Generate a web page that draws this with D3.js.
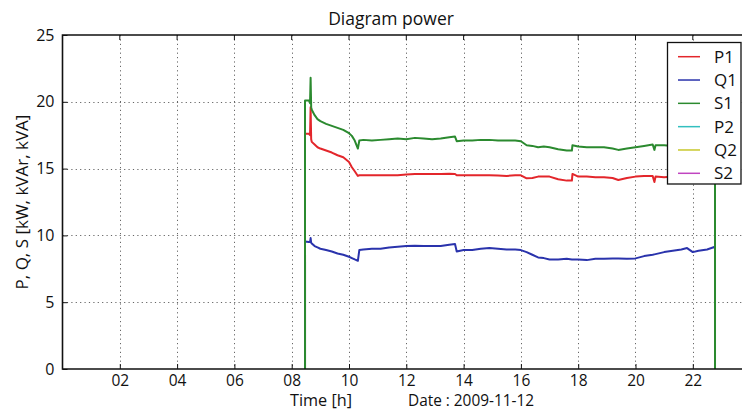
<!DOCTYPE html>
<html>
<head>
<meta charset="utf-8">
<script src="https://cdn.jsdelivr.net/npm/d3@7"></script>
<style>
  html, body { margin: 0; padding: 0; background: #fff; }
  svg { display: block; overflow: hidden; }
  text { font-family: "Open Sans", "DejaVu Sans", sans-serif; fill: #111; }
</style>
</head>
<body>
<svg id="chart" width="742" height="410"></svg>
<script>
// ---- data ----
const hours = [8.465, 8.465, 8.6, 8.64, 8.66, 8.68, 8.7, 8.8, 8.9, 9.0, 9.2, 9.4, 9.6, 9.8, 10.0, 10.1, 10.2, 10.31, 10.36, 10.5, 10.8, 11.1, 11.4, 11.7, 12.0, 12.3, 12.6, 12.9, 13.2, 13.5, 13.7, 13.76, 14.0, 14.3, 14.6, 14.9, 15.2, 15.5, 15.8, 16.0, 16.2, 16.4, 16.6, 16.8, 17.0, 17.3, 17.6, 17.78, 17.8, 18.0, 18.3, 18.6, 18.9, 19.2, 19.4, 19.7, 20.0, 20.3, 20.6, 20.66, 20.7, 21.0, 21.3, 21.6, 21.8, 22.0, 22.2, 22.5, 22.775, 22.775];
const P1 = [0, 17.6, 17.6, 17.5, 19.6, 17.2, 17.0, 16.8, 16.6, 16.5, 16.35, 16.2, 16.0, 15.85, 15.5, 15.1, 14.8, 14.45, 14.5, 14.5, 14.5, 14.5, 14.5, 14.5, 14.55, 14.6, 14.6, 14.6, 14.6, 14.62, 14.6, 14.5, 14.5, 14.5, 14.5, 14.5, 14.48, 14.45, 14.5, 14.5, 14.27, 14.3, 14.4, 14.4, 14.4, 14.2, 14.1, 14.1, 14.6, 14.4, 14.4, 14.35, 14.35, 14.3, 14.15, 14.3, 14.4, 14.45, 14.45, 14.0, 14.4, 14.35, 14.4, 14.45, 14.5, 14.4, 14.45, 14.5, 14.5, 0];
const Q1 = [0, 9.55, 9.5, 9.5, 9.8, 9.45, 9.4, 9.2, 9.1, 9.0, 8.9, 8.8, 8.65, 8.55, 8.4, 8.3, 8.2, 8.1, 8.9, 8.95, 9.0, 9.0, 9.1, 9.15, 9.2, 9.22, 9.2, 9.2, 9.2, 9.3, 9.35, 8.8, 8.9, 8.9, 9.0, 9.05, 9.0, 8.95, 8.95, 8.9, 8.75, 8.55, 8.35, 8.3, 8.2, 8.2, 8.25, 8.2, 8.2, 8.2, 8.15, 8.25, 8.25, 8.28, 8.28, 8.25, 8.28, 8.45, 8.55, 8.58, 8.6, 8.75, 8.85, 8.95, 9.05, 8.75, 8.85, 8.95, 9.15, 0];
const S1 = [0, 20.1, 20.1, 19.9, 21.8, 19.6, 19.4, 19.0, 18.7, 18.55, 18.35, 18.2, 18.05, 17.9, 17.65, 17.45, 17.1, 16.5, 17.1, 17.15, 17.1, 17.15, 17.2, 17.25, 17.2, 17.3, 17.25, 17.2, 17.25, 17.35, 17.4, 17.05, 17.1, 17.1, 17.15, 17.15, 17.1, 17.1, 17.1, 17.05, 16.75, 16.7, 16.6, 16.65, 16.6, 16.45, 16.35, 16.35, 16.75, 16.65, 16.6, 16.6, 16.6, 16.5, 16.4, 16.5, 16.6, 16.7, 16.8, 16.4, 16.75, 16.75, 16.7, 16.8, 16.9, 16.6, 16.7, 16.8, 16.9, 0];
const seriesNames = ["P1", "Q1", "S1", "P2", "Q2", "S2"];
const seriesColors = ["#e3262b", "#2a33ac", "#2b8a2f", "#33bfbf", "#c8c82c", "#c045c0"];
const xTicks = [2, 4, 6, 8, 10, 12, 14, 16, 18, 20, 22];
const xTickLabels = ["02", "04", "06", "08", "10", "12", "14", "16", "18", "20", "22"];
const yTicks = [0, 5, 10, 15, 20, 25];
const titleText = "Diagram power";
const yLabel = "P, Q, S [kW, kVAr, kVA]";
const xLabel = "Time [h]";
const dateLabel = "Date : 2009-11-12";

// ---- layout ----
const svg = d3.select("#chart");
const mLeft = 62.5, mTop = 35, mBottom = 369;
const pxPerHour = 28.65;
const mRight = mLeft + 24 * pxPerHour;

const x = d3.scaleLinear().domain([0, 24]).range([mLeft, mRight]);
const y = d3.scaleLinear().domain([0, 25]).range([mBottom, mTop]);

svg.append("rect").attr("width", 742).attr("height", 410).attr("fill", "#fff");

svg.append("defs").append("clipPath").attr("id", "clip")
  .append("rect").attr("x", mLeft).attr("y", mTop).attr("width", mRight - mLeft).attr("height", mBottom - mTop);

// grid
const grid = svg.append("g").attr("stroke", "#555").attr("stroke-width", 0.9).attr("stroke-dasharray", "1.2,3.2");
grid.selectAll("line.gx").data(xTicks).join("line").attr("class", "gx")
  .attr("x1", d => Math.round(x(d)) + 0.5).attr("x2", d => Math.round(x(d)) + 0.5)
  .attr("y1", mTop).attr("y2", mBottom);
grid.selectAll("line.gy").data(yTicks.filter(d => d > 0 && d < 25)).join("line").attr("class", "gy")
  .attr("y1", d => Math.round(y(d)) + 0.5).attr("y2", d => Math.round(y(d)) + 0.5)
  .attr("x1", mLeft).attr("x2", mRight);

// lines
const plot = svg.append("g").attr("clip-path", "url(#clip)");
const data = [P1, Q1, S1];
data.forEach((vals, i) => {
  const pts = hours.map((h, j) => [h, vals[j]]);
  plot.append("path")
    .datum(pts)
    .attr("fill", "none")
    .attr("stroke", seriesColors[i])
    .attr("stroke-width", 2)
    .attr("stroke-linejoin", "round")
    .attr("d", d3.line().x(d => x(d[0])).y(d => y(d[1])));
});

// axes (inward ticks)
const xAxis = d3.axisBottom(x).tickValues(xTicks).tickFormat((d, i) => xTickLabels[i]).tickSizeInner(-5).tickSizeOuter(0).tickPadding(5.5);
const gx = svg.append("g").attr("transform", `translate(0,${mBottom})`).call(xAxis);
gx.select(".domain").remove();
gx.selectAll("text").attr("font-size", 15.5).attr("font-family", "'Open Sans', sans-serif").attr("fill", "#111");
gx.selectAll("line").attr("stroke", "#111");

const yAxis = d3.axisLeft(y).tickValues(yTicks).tickSizeInner(-5).tickSizeOuter(0).tickPadding(8);
const gy = svg.append("g").attr("transform", `translate(${mLeft},0)`).call(yAxis);
gy.select(".domain").remove();
gy.selectAll("text").attr("font-size", 16).attr("font-family", "'Open Sans', sans-serif").attr("fill", "#111");
gy.selectAll("line").attr("stroke", "#111");

// top ticks
svg.append("g").selectAll("line").data(xTicks).join("line")
  .attr("x1", d => x(d)).attr("x2", d => x(d)).attr("y1", mTop).attr("y2", mTop + 5).attr("stroke", "#111");

// frame
svg.append("path")
  .attr("d", `M${mRight},${mTop}H${mLeft}V${mBottom}H${mRight}`)
  .attr("fill", "none").attr("stroke", "#111").attr("stroke-width", 1.6);

// texts
svg.append("text").attr("x", 391).attr("y", 25).attr("text-anchor", "middle").attr("font-size", 17.5).text(titleText);
svg.append("text").attr("transform", "translate(28,202) rotate(-90)").attr("text-anchor", "middle").attr("font-size", 17).text(yLabel);
svg.append("text").attr("x", 290).attr("y", 405.5).attr("font-size", 16).attr("textLength", 62).attr("lengthAdjust", "spacingAndGlyphs").text(xLabel);
svg.append("text").attr("x", 408).attr("y", 405.5).attr("font-size", 16).attr("textLength", 126).attr("lengthAdjust", "spacingAndGlyphs").text(dateLabel);

// legend
const lg = svg.append("g");
lg.append("rect").attr("x", 667.5).attr("y", 42.5).attr("width", 73.5).attr("height", 141.5)
  .attr("fill", "#fff").attr("stroke", "#111").attr("stroke-width", 1.3);
const rowY = d3.scalePoint().domain(seriesNames).range([56.7, 173.3]);
seriesNames.forEach((n, i) => {
  lg.append("line").attr("x1", 678).attr("x2", 700).attr("y1", rowY(n)).attr("y2", rowY(n))
    .attr("stroke", seriesColors[i]).attr("stroke-width", 1.5);
  lg.append("text").attr("x", 714).attr("y", rowY(n) + 6).attr("font-size", 17).text(n);
});
</script>
</body>
</html>
